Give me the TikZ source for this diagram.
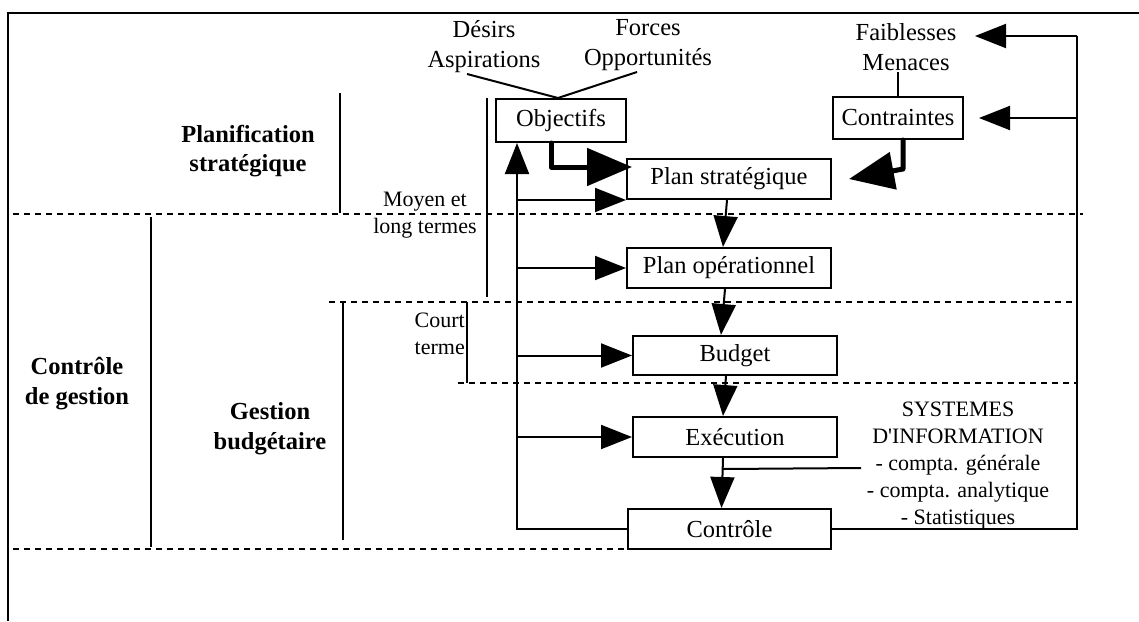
\documentclass[tikz,border=0pt]{standalone}
\usepackage{fontspec}
\setmainfont{Liberation Serif}
\usetikzlibrary{arrows.meta,calc}
\begin{document}
\begin{tikzpicture}[x=1pt,y=-1pt,
  box/.style={draw, line width=2pt, inner sep=0pt, font=\fontsize{24.5}{30}\selectfont},
  lbl/.style={align=center, inner sep=0pt, font=\fontsize{24.5}{30}\selectfont},
  blbl/.style={align=center, inner sep=0pt, font=\fontsize{24.5}{29.5}\selectfont\bfseries},
  slbl/.style={align=center, inner sep=0pt, font=\fontsize{22}{27}\selectfont},
  ln/.style={line width=2pt},
  dsh/.style={line width=1.8pt, dash pattern=on 6pt off 5pt},
  arr/.style={line width=2pt, -{Triangle[length=31pt,width=24pt]}},
  bigarr/.style={line width=5pt, line cap=round, line join=round, -{Triangle[length=45pt,width=37pt]}},
]
\useasboundingbox (0,0) rectangle (1139,621);

% frame
\draw[line width=2.5pt] (8,621) -- (8,13) -- (1139,13);

% dashed separators
\draw[dsh] (13,214) -- (1083,214);
\draw[dsh] (329,302) -- (1077,302);
\draw[dsh] (458,383) -- (1077,383);
\draw[dsh] (13,549) -- (628,549);

% brackets
\draw[ln] (340,93) -- (340,213);
\draw[ln] (151,217) -- (151,547);
\draw[ln] (487,98) -- (487,297);
\draw[ln] (343,302) -- (343,540);
\draw[ln] (467,302) -- (467,383);

% boxes
\node[box, minimum width=130pt, minimum height=43pt] (obj) at (561,120.5) {Objectifs};
\node[box, minimum width=130pt, minimum height=42pt] (cont) at (898,118) {Contraintes};
\node[box, minimum width=204pt, minimum height=40pt] (pstrat) at (729,179) {Plan stratégique};
\node[box, minimum width=204pt, minimum height=40pt] (pop) at (729,268) {Plan opérationnel};
\node[box, minimum width=204pt, minimum height=39pt] (bud) at (735,355.5) {Budget};
\node[box, minimum width=204pt, minimum height=40pt] (exe) at (735,437) {Exécution};
\node[box, minimum width=203pt, minimum height=40pt] (ctl) at (729.5,529) {Contrôle};

% labels
\node[lbl] (des) at (484,47) {Désirs\\Aspirations};
\node[lbl] (for) at (648,45) {Forces\\Opportunités};
\node[lbl] (fai) at (906,47) {Faiblesses\\Menaces};
\node[blbl] (planif) at (248,151) {Planification\\stratégique};
\node[blbl] (cdg) at (77,383.5) {Contrôle\\de gestion};
\node[blbl] (gb) at (270,428.5) {Gestion\\budgétaire};
\node[slbl] (mlt) at (425,215.5) {Moyen et\\long termes};
\node[slbl, align=right, anchor=east] (ct) at (465,334) {Court\\terme};
\node[slbl] (si) at (958,466) {SYSTEMES\\D\textquotesingle INFORMATION\\- compta. générale\\- compta. analytique\\- Statistiques};

% label connectors
\coordinate (dl) at (467,74);
\coordinate (fl) at (637,72);
\draw[ln] (dl) -- ([xshift=-3pt]obj.north) -- (fl);
\draw[ln] (cont.north) -- ++(0,-24);

% feedback loop (left)
\coordinate (fb) at (518,0);
\draw[arr] (ctl.west) -| ([xshift=22pt]obj.south west);
\draw[arr] (fb |- pstrat.south west) -- (pstrat.south west);
\draw[arr] (fb |- pop.west) -- (pop.west);
\draw[arr] (fb |- bud.west) -- (bud.west);
\draw[arr] (fb |- exe.west) -- (exe.west);

% main chain
\draw[arr] ([xshift=-2pt]pstrat.south) -- ([xshift=-6pt]pop.north);
\draw[arr] ([xshift=-4pt]pop.south) -- ([xshift=-14pt]bud.north);
\draw[arr] ([xshift=-9pt]bud.south) -- ([xshift=-12pt]exe.north);
\draw[arr] ([xshift=-12pt]exe.south) -- ([xshift=-8pt]ctl.north);
\coordinate (sil) at (861,468);
\draw[ln] ($([xshift=-12pt]exe.south)+(0,11)$) -- (sil);

% feedback loop (right)
\coordinate (rtop) at (1077,36);
\coordinate (faitip) at (975,36);
\draw[ln] (ctl.east) -| (rtop);
\draw[arr] (rtop) -- (faitip);
\draw[arr] (rtop |- cont.east) -- ([xshift=15pt]cont.east);

% thick arrows
\draw[bigarr] ([xshift=-10pt]obj.south) |- ([xshift=6pt,yshift=12pt]pstrat.west);
\coordinate (ctip) at ([xshift=17pt]pstrat.east);
\draw[bigarr] ([xshift=5pt]cont.south) -- ++(0,29) -- (ctip);
\end{tikzpicture}
\end{document}
